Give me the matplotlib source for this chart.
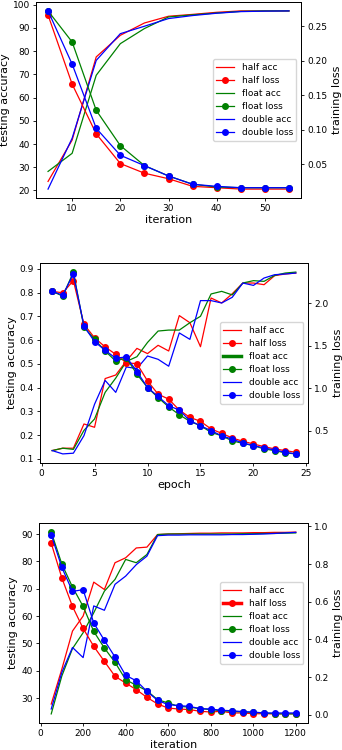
import numpy as np
import matplotlib
matplotlib.use("Agg")
import matplotlib.pyplot as plt

# ---- panel 1 : iteration 5..55
it1 = [5, 10, 15, 20, 25, 30, 35, 40, 45, 50, 55]
half_acc1 = [23.9, 41.7, 77.5, 86.8, 92.1, 95.0, 95.8, 96.7, 97.3, 97.3, 97.3]
float_acc1 = [28.2, 36.0, 69.6, 83.2, 89.7, 94.7, 95.6, 96.4, 97.1, 97.3, 97.3]
double_acc1 = [20.6, 42.5, 76.0, 87.5, 90.7, 94.0, 95.3, 96.3, 97.0, 97.2, 97.3]
half_loss1 = [0.266, 0.166, 0.094, 0.051, 0.037, 0.029, 0.018, 0.016, 0.014, 0.014, 0.014]
float_loss1 = [0.272, 0.227, 0.128, 0.077, 0.048, 0.033, 0.021, 0.017, 0.016, 0.016, 0.016]
double_loss1 = [0.272, 0.195, 0.102, 0.063, 0.048, 0.033, 0.021, 0.018, 0.016, 0.016, 0.016]

# ---- panel 2 : epoch 1..24
ep2 = list(range(1, 25))
half_acc2 = [0.135, 0.145, 0.145, 0.247, 0.233, 0.438, 0.453, 0.512, 0.565, 0.543, 0.578, 0.554,
             0.703, 0.673, 0.572, 0.777, 0.756, 0.795, 0.840, 0.840, 0.833, 0.871, 0.878, 0.882]
float_acc2 = [0.135, 0.145, 0.140, 0.220, 0.268, 0.380, 0.440, 0.510, 0.530, 0.590, 0.638, 0.642,
              0.642, 0.673, 0.700, 0.794, 0.805, 0.790, 0.840, 0.850, 0.847, 0.872, 0.882, 0.886]
double_acc2 = [0.135, 0.121, 0.124, 0.198, 0.330, 0.430, 0.380, 0.487, 0.480, 0.533, 0.519, 0.490,
               0.630, 0.603, 0.766, 0.766, 0.756, 0.780, 0.840, 0.830, 0.861, 0.875, 0.878, 0.882]
half_loss2 = [2.144, 2.125, 2.270, 1.753, 1.596, 1.487, 1.400, 1.300, 1.290, 1.087, 0.930, 0.872,
              0.743, 0.657, 0.610, 0.520, 0.469, 0.414, 0.375, 0.343, 0.312, 0.285, 0.265, 0.245]
float_loss2 = [2.144, 2.086, 2.370, 1.720, 1.577, 1.440, 1.320, 1.360, 1.166, 1.009, 0.890, 0.780,
               0.688, 0.610, 0.559, 0.480, 0.440, 0.380, 0.350, 0.324, 0.285, 0.265, 0.238, 0.226]
double_loss2 = [2.144, 2.097, 2.348, 1.733, 1.550, 1.448, 1.354, 1.370, 1.197, 1.009, 0.903, 0.794,
                0.743, 0.617, 0.559, 0.500, 0.440, 0.400, 0.355, 0.324, 0.296, 0.273, 0.245, 0.226]

# ---- panel 3 : iteration 50..1200
it3 = list(range(50, 1201, 50))
half_acc3 = [27.8, 40.6, 54.5, 60.0, 72.4, 69.7, 79.5, 81.3, 84.9, 85.2, 89.8, 90.0,
             90.1, 90.2, 90.3, 90.3, 90.4, 90.4, 90.4, 90.5, 90.5, 90.6, 90.6, 90.7]
float_acc3 = [24.2, 38.1, 48.1, 53.9, 61.2, 69.1, 73.4, 80.7, 79.5, 82.5, 89.8, 90.0,
              90.0, 90.0, 90.0, 90.0, 90.0, 90.0, 90.1, 90.1, 90.2, 90.2, 90.3, 90.4]
double_acc3 = [26.0, 39.4, 48.5, 44.8, 63.7, 62.1, 71.6, 74.6, 78.8, 81.9, 89.4, 89.6,
               89.6, 89.7, 89.7, 89.7, 89.7, 89.8, 89.8, 89.9, 90.0, 90.2, 90.4, 90.6]
half_loss3 = [0.911, 0.726, 0.575, 0.458, 0.363, 0.283, 0.204, 0.168, 0.133, 0.092, 0.057, 0.035,
              0.030, 0.027, 0.018, 0.014, 0.018, 0.009, 0.009, 0.005, 0.005, 0.004, 0.005, 0.005]
float_loss3 = [0.970, 0.800, 0.678, 0.575, 0.442, 0.354, 0.278, 0.186, 0.156, 0.127, 0.080, 0.062,
               0.044, 0.040, 0.032, 0.027, 0.021, 0.018, 0.014, 0.012, 0.009, 0.005, 0.004, 0.004]
double_loss3 = [0.956, 0.782, 0.655, 0.664, 0.487, 0.395, 0.306, 0.209, 0.180, 0.124, 0.076, 0.053,
                0.048, 0.044, 0.032, 0.030, 0.023, 0.021, 0.016, 0.014, 0.009, 0.009, 0.009, 0.009]

W, H = 342, 750
fig = plt.figure(figsize=(W / 100, H / 100), dpi=100)

def px_axes(left, top, right, bottom):
    return fig.add_axes([left / W, 1 - bottom / H, (right - left) / W, (bottom - top) / H])

def panel(box, x, accs, losses, xlabel, thick=None):
    ax = px_axes(*box)
    ax2 = ax.twinx()
    handles = []
    for name, c, a, l in zip(["half", "float", "double"], ["red", "green", "blue"], accs, losses):
        h1, = ax.plot(x, a, color=c, lw=0.9, label=name + " acc")
        h2, = ax2.plot(x, l, color=c, lw=0.9, marker="o", ms=4, label=name + " loss")
        handles += [h1, h2]
    ax.set_xlabel(xlabel, fontsize=8, labelpad=1)
    ax.set_ylabel("testing accuracy", fontsize=8, labelpad=2)
    ax2.set_ylabel("training loss", fontsize=8, labelpad=3)
    for a in (ax, ax2):
        a.tick_params(labelsize=6.5, length=2.5, width=0.6, pad=2)
        for s in a.spines.values():
            s.set_linewidth(0.7)
    leg = ax2.legend(handles=handles, loc="center right", fontsize=6.5,
                     handlelength=2.0, borderpad=0.4, labelspacing=0.45)
    if thick is not None:
        leg.get_lines()[thick].set_linewidth(2.5)
    return ax, ax2

panel((36, 2, 301, 198), it1, [half_acc1, float_acc1, double_acc1],
      [half_loss1, float_loss1, double_loss1], "iteration")
panel((40, 263, 308, 463), ep2, [half_acc2, float_acc2, double_acc2],
      [half_loss2, float_loss2, double_loss2], "epoch", thick=2)
panel((39, 523, 308, 723), it3, [half_acc3, float_acc3, double_acc3],
      [half_loss3, float_loss3, double_loss3], "iteration", thick=1)

fig.savefig("out.png", dpi=100)
